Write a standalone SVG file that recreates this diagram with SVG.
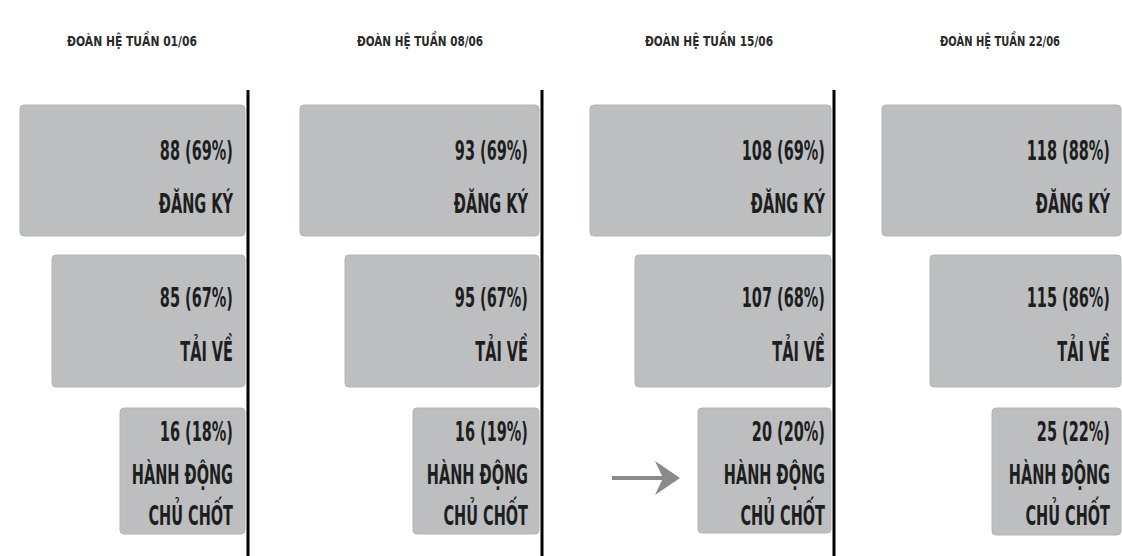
<svg xmlns="http://www.w3.org/2000/svg" width="1122" height="556" viewBox="0 0 1122 556">
<style>
.bg{fill:#ffffff}
.box{fill:#bdbec0;stroke:#b3b4b6;stroke-width:1}
.title{font-family:"DejaVu Sans Condensed","DejaVu Sans",sans-serif;font-weight:bold;font-size:14px;fill:#2a2a2a;text-anchor:middle}
.lbl{font-family:"DejaVu Sans Condensed","DejaVu Sans",sans-serif;font-weight:bold;font-size:26px;fill:#1e1e1e;text-anchor:end}
.axis{stroke:#000;stroke-width:3}
</style>
<rect class="bg" x="0" y="0" width="1122" height="556"/>
<g id="col1">
  <text class="title" x="132" y="46" textLength="130" lengthAdjust="spacingAndGlyphs">ĐOÀN HỆ TUẦN 01/06</text>
  <line class="axis" x1="248" y1="90" x2="248" y2="556"/>
  <g id="c1-dangky"><rect class="box" x="20" y="105" width="225" height="131" rx="4"/>
    <text class="lbl" transform="translate(233,160) scale(0.62,1)">88 (69%)</text>
    <text class="lbl" transform="translate(233,213) scale(0.62,1)">ĐĂNG KÝ</text></g>
  <g id="c1-taive"><rect class="box" x="52" y="255" width="193" height="132" rx="4"/>
    <text class="lbl" transform="translate(233,307) scale(0.62,1)">85 (67%)</text>
    <text class="lbl" transform="translate(233,361) scale(0.62,1)">TẢI VỀ</text></g>
  <g id="c1-hd"><rect class="box" x="120" y="408" width="125" height="126" rx="4"/>
    <text class="lbl" transform="translate(233,441) scale(0.62,1)">16 (18%)</text>
    <text class="lbl" transform="translate(233,484) scale(0.62,1)">HÀNH ĐỘNG</text>
    <text class="lbl" transform="translate(233,525) scale(0.62,1)">CHỦ CHỐT</text></g>
</g>
<g id="col2">
  <text class="title" x="420" y="46" textLength="126" lengthAdjust="spacingAndGlyphs">ĐOÀN HỆ TUẦN 08/06</text>
  <line class="axis" x1="542" y1="90" x2="542" y2="556"/>
  <g id="c2-dangky"><rect class="box" x="300" y="105" width="239" height="131" rx="4"/>
    <text class="lbl" transform="translate(528,160) scale(0.62,1)">93 (69%)</text>
    <text class="lbl" transform="translate(528,213) scale(0.62,1)">ĐĂNG KÝ</text></g>
  <g id="c2-taive"><rect class="box" x="345" y="255" width="194" height="132" rx="4"/>
    <text class="lbl" transform="translate(528,307) scale(0.62,1)">95 (67%)</text>
    <text class="lbl" transform="translate(528,361) scale(0.62,1)">TẢI VỀ</text></g>
  <g id="c2-hd"><rect class="box" x="413" y="408" width="126" height="126" rx="4"/>
    <text class="lbl" transform="translate(528,441) scale(0.62,1)">16 (19%)</text>
    <text class="lbl" transform="translate(528,484) scale(0.62,1)">HÀNH ĐỘNG</text>
    <text class="lbl" transform="translate(528,525) scale(0.62,1)">CHỦ CHỐT</text></g>
</g>
<g id="col3">
  <text class="title" x="709" y="46" textLength="128" lengthAdjust="spacingAndGlyphs">ĐOÀN HỆ TUẦN 15/06</text>
  <line class="axis" x1="834" y1="90" x2="834" y2="556"/>
  <g id="c3-dangky"><rect class="box" x="590" y="105" width="241" height="131" rx="4"/>
    <text class="lbl" transform="translate(825,160) scale(0.62,1)">108 (69%)</text>
    <text class="lbl" transform="translate(825,213) scale(0.62,1)">ĐĂNG KÝ</text></g>
  <g id="c3-taive"><rect class="box" x="635" y="255" width="196" height="132" rx="4"/>
    <text class="lbl" transform="translate(825,307) scale(0.62,1)">107 (68%)</text>
    <text class="lbl" transform="translate(825,361) scale(0.62,1)">TẢI VỀ</text></g>
  <g id="c3-hd"><rect class="box" x="698" y="408" width="133" height="125" rx="4"/>
    <text class="lbl" transform="translate(825,441) scale(0.62,1)">20 (20%)</text>
    <text class="lbl" transform="translate(825,484) scale(0.62,1)">HÀNH ĐỘNG</text>
    <text class="lbl" transform="translate(825,525) scale(0.62,1)">CHỦ CHỐT</text></g>
</g>
<g id="col4">
  <text class="title" x="1000" y="46" textLength="120" lengthAdjust="spacingAndGlyphs">ĐOÀN HỆ TUẦN 22/06</text>
  <g id="c4-dangky"><rect class="box" x="882" y="105" width="239" height="131" rx="4"/>
    <text class="lbl" transform="translate(1110,160) scale(0.62,1)">118 (88%)</text>
    <text class="lbl" transform="translate(1110,213) scale(0.62,1)">ĐĂNG KÝ</text></g>
  <g id="c4-taive"><rect class="box" x="930" y="255" width="191" height="132" rx="4"/>
    <text class="lbl" transform="translate(1110,307) scale(0.62,1)">115 (86%)</text>
    <text class="lbl" transform="translate(1110,361) scale(0.62,1)">TẢI VỀ</text></g>
  <g id="c4-hd"><rect class="box" x="992" y="408" width="129" height="127" rx="4"/>
    <text class="lbl" transform="translate(1110,441) scale(0.62,1)">25 (22%)</text>
    <text class="lbl" transform="translate(1110,484) scale(0.62,1)">HÀNH ĐỘNG</text>
    <text class="lbl" transform="translate(1110,525) scale(0.62,1)">CHỦ CHỐT</text></g>
</g>
<g id="connectors">
  <line x1="612" y1="478" x2="664" y2="478" stroke="#8a8a8a" stroke-width="4"/>
  <polygon points="655,461 680,478 655,495 663,478" fill="#8a8a8a"/>
</g>
</svg>
